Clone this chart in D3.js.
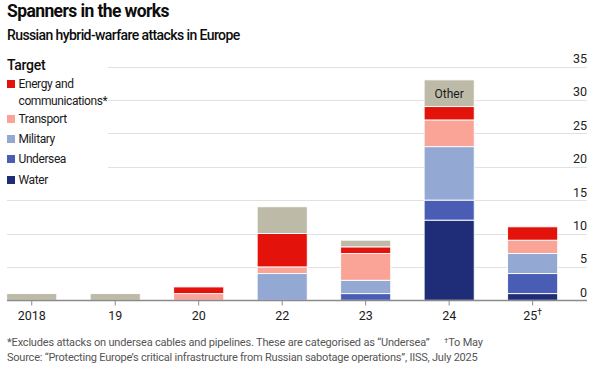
<!DOCTYPE html>
<html><head><meta charset="utf-8">
<script src="https://cdn.jsdelivr.net/npm/d3@7"></script>
<style>
html,body{margin:0;padding:0;background:#fff;}
svg text{font-family:Roboto,"Noto Sans",sans-serif;}
</style></head>
<body><svg id="c" width="602" height="377"></svg>
<script>
const years = ["2018","19","20","22","23","24","25"];
const seriesNames = ["Water","Undersea","Military","Transport","Energy","Other"];
const water     = [0,0,0,0,0,12,1];
const undersea  = [0,0,0,0,1,3,3];
const military  = [0,0,0,4,2,8,3];
const transport = [0,0,1,1,4,4,2];
const energy    = [0,0,1,5,1,2,2];
const other     = [1,1,0,4,1,4,0];
const yTicks = [0,5,10,15,20,25,30,35];
const colors = {Water:"#1f2c78",Undersea:"#4a5db5",Military:"#93a9d3",Transport:"#f9a497",Energy:"#e3120b",Other:"#bdbaa8"};
const legendItems = [["Energy",["Energy and","communications*"]],["Transport",["Transport"]],["Military",["Military"]],["Undersea",["Undersea"]],["Water",["Water"]]];

const svg = d3.select("#c");
const rows = years.map((y,i)=>({year:y,Water:water[i],Undersea:undersea[i],Military:military[i],Transport:transport[i],Energy:energy[i],Other:other[i]}));
const stack = d3.stack().keys(seriesNames)(rows);

const x = d3.scaleBand().domain(years).range([6.7,557.7]).paddingInner(0.4).paddingOuter(0);
const y = d3.scaleLinear().domain([0,35]).range([300.3,66.5]);

// gridlines
svg.append("g").selectAll("line").data(yTicks.filter(d=>d>0)).join("line")
  .attr("x1",d=>d>=20?108:7).attr("x2",587)
  .attr("y1",d=>Math.round(y(d))+0.5).attr("y2",d=>Math.round(y(d))+0.5)
  .attr("stroke","#e1e1e1").attr("stroke-width",1);
svg.append("g").selectAll("text").data(yTicks).join("text")
  .attr("x",587).attr("y",d=>y(d)-3.5).attr("text-anchor","end")
  .attr("font-size",12.5).attr("fill","#222").text(d=>d);

// bars
svg.append("g").selectAll("g").data(stack).join("g").attr("fill",d=>colors[d.key])
  .selectAll("rect").data(d=>d.filter(s=>s[1]-s[0]>0)).join("rect")
  .attr("x",d=>x(d.data.year)).attr("width",x.bandwidth())
  .attr("y",d=>y(d[1])).attr("height",d=>y(d[0])-y(d[1]))
  .attr("stroke","#fff").attr("stroke-width",0.9);

// Other label
const i24 = years.indexOf("24");
const oth = stack.find(s=>s.key==="Other")[i24];
svg.append("text").attr("x",x("24")+x.bandwidth()/2).attr("y",(y(oth[0])+y(oth[1]))/2+4.5)
  .attr("text-anchor","middle").attr("font-size",12).attr("fill","#1a1a1a").text("Other");

// x axis
const xa = svg.append("g").attr("transform","translate(0,300.5)");
xa.append("line").attr("x1",7).attr("x2",587).attr("stroke","#8a8a8a").attr("stroke-width",1.6);
const tk = xa.selectAll("g").data(years).join("g").attr("transform",d=>`translate(${x(d)+x.bandwidth()/2},0)`);
tk.append("line").attr("y1",0).attr("y2",5).attr("stroke","#8a8a8a").attr("stroke-width",1);
const tl = tk.append("text").attr("y",19).attr("text-anchor","middle").attr("font-size",12.5).attr("fill","#1a1a1a");
tl.append("tspan").text(d=>d);
tl.filter(d=>d==="25").append("tspan").attr("dy",-5).attr("font-size",8.5).text("†");

// titles
svg.append("text").attr("x",7).attr("y",17).attr("font-size",17.5).attr("font-weight",700).attr("fill","#0d0d0d").attr("letter-spacing",-0.6).text("Spanners in the works");
svg.append("text").attr("x",7).attr("y",40).attr("font-size",14).attr("font-weight",500).attr("fill","#0d0d0d").attr("letter-spacing",-0.6).text("Russian hybrid-warfare attacks in Europe");

// legend
svg.append("text").attr("x",7).attr("y",69.5).attr("font-size",14).attr("font-weight",500).attr("fill","#0d0d0d").attr("letter-spacing",-0.3).text("Target");
const legY = [80,115,135,155,176];
legendItems.forEach((it,i)=>{
  svg.append("rect").attr("x",7).attr("y",legY[i]).attr("width",8).attr("height",8).attr("fill",colors[it[0]]);
  it[1].forEach((t,j)=>{
    svg.append("text").attr("x",18.5).attr("y",legY[i]+8+j*16.5).attr("font-size",12).attr("fill","#1a1a1a").attr("letter-spacing",-0.4).text(t);
  });
});

// footnotes
const fn = svg.append("g").attr("font-size",11).attr("fill","#555");
fn.append("text").attr("x",7).attr("y",346).attr("letter-spacing",-0.18).text("*Excludes attacks on undersea cables and pipelines. These are categorised as “Undersea”");
const dg = fn.append("text").attr("x",444).attr("y",346).attr("letter-spacing",-0.2);
dg.append("tspan").attr("font-size",8).attr("dy",-3).text("†");
dg.append("tspan").attr("dy",3).text("To May");
fn.append("text").attr("x",7).attr("y",361).attr("letter-spacing",-0.22).text("Source: “Protecting Europe’s critical infrastructure from Russian sabotage operations”, IISS, July 2025");
</script></body></html>
